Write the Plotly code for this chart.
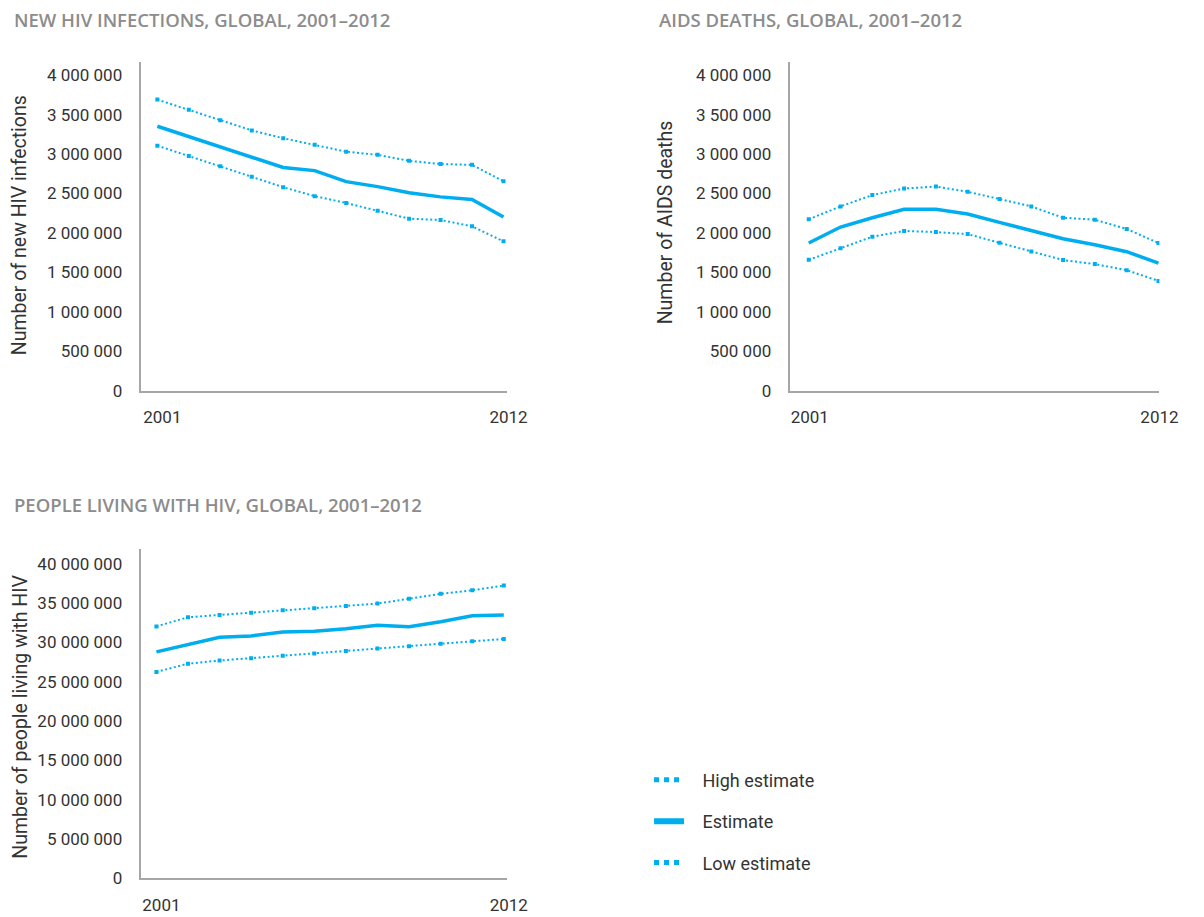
import plotly.graph_objects as go

years = list(range(2001, 2013))

# New HIV infections
inf_high = [3690000, 3560000, 3430000, 3300000, 3200000, 3117000, 3030000, 2990000, 2914000, 2874000, 2863000, 2655000]
inf_est = [3352000, 3220000, 3090000, 2957000, 2830000, 2790000, 2650000, 2587000, 2510000, 2457000, 2424000, 2203000]
inf_low = [3106000, 2974000, 2844000, 2712000, 2580000, 2466000, 2380000, 2280000, 2180000, 2164000, 2084000, 1893000]

# AIDS deaths
dth_high = [2173000, 2336000, 2480000, 2563000, 2588000, 2522000, 2430000, 2336000, 2193000, 2168000, 2050000, 1872000]
dth_est = [1872000, 2075000, 2193000, 2300000, 2300000, 2240000, 2134000, 2029000, 1927000, 1851000, 1762000, 1618000]
dth_low = [1659000, 1806000, 1952000, 2025000, 2011000, 1985000, 1876000, 1765000, 1656000, 1605000, 1528000, 1392000]

# People living with HIV
plw_high = [32040000, 33200000, 33500000, 33790000, 34080000, 34360000, 34650000, 34940000, 35560000, 36180000, 36640000, 37230000]
plw_est = [28800000, 29720000, 30650000, 30830000, 31330000, 31430000, 31750000, 32200000, 32000000, 32630000, 33380000, 33500000]
plw_low = [26250000, 27300000, 27700000, 27990000, 28300000, 28600000, 28920000, 29220000, 29530000, 29840000, 30140000, 30440000]

titles = ["NEW HIV INFECTIONS, GLOBAL, 2001\u20132012",
          "AIDS DEATHS, GLOBAL, 2001\u20132012",
          "PEOPLE LIVING WITH HIV, GLOBAL, 2001\u20132012"]
ytitles = ["Number of new HIV infections", "Number of AIDS deaths", "Number of people living with HIV"]

yt_small_vals = [0, 500000, 1000000, 1500000, 2000000, 2500000, 3000000, 3500000, 4000000]
yt_small_text = ["0", "500 000", "1 000 000", "1 500 000", "2 000 000", "2 500 000", "3 000 000", "3 500 000", "4 000 000"]
yt_big_vals = [0, 5000000, 10000000, 15000000, 20000000, 25000000, 30000000, 35000000, 40000000]
yt_big_text = ["0", "5 000 000", "10 000 000", "15 000 000", "20 000 000", "25 000 000", "30 000 000", "35 000 000", "40 000 000"]
xt_vals = [2001, 2012]
xt_text = ["2001", "2012"]

legend_names = ["High estimate", "Estimate", "Low estimate"]

BLUE = "#00aeef"
W, H = 1204, 917
FONT = "Roboto"

fig = go.Figure()

series = [
    (inf_high, inf_est, inf_low, "x", "y"),
    (dth_high, dth_est, dth_low, "x2", "y2"),
    (plw_high, plw_est, plw_low, "x3", "y3"),
]
for hi, est, lo, xa, ya in series:
    for vals, kind in ((hi, "dot"), (lo, "dot"), (est, "solid")):
        if kind == "dot":
            fig.add_trace(go.Scatter(x=years, y=vals, xaxis=xa, yaxis=ya, mode="lines+markers",
                                     line=dict(color=BLUE, width=2, dash="2px,2.5px"),
                                     marker=dict(symbol="square", size=4, color=BLUE),
                                     showlegend=False, hoverinfo="skip"))
        else:
            fig.add_trace(go.Scatter(x=years, y=vals, xaxis=xa, yaxis=ya, mode="lines",
                                     line=dict(color=BLUE, width=3.5),
                                     showlegend=False, hoverinfo="skip"))

# legend entries
for i, name in enumerate(legend_names):
    if name == "Estimate":
        ln = dict(color=BLUE, width=6)
    else:
        ln = dict(color=BLUE, width=5, dash="dot")
    fig.add_trace(go.Scatter(x=[None], y=[None], mode="lines", name="\u00a0\u00a0\u00a0" + name, line=ln,
                             legendgroup=name, showlegend=True, xaxis="x", yaxis="y"))

def px_x(p):
    return p / W

def px_y(p):
    return 1 - p / H

axis_common = dict(showgrid=False, zeroline=False, showline=True, linecolor="#a6a6a6", linewidth=2,
                   ticks="", tickfont=dict(family=FONT, size=17, color="#333333"), fixedrange=True)

layout = dict(
    width=W, height=H, margin=dict(l=0, r=0, t=0, b=0),
    paper_bgcolor="white", plot_bgcolor="white",
    showlegend=True,
    legend=dict(x=px_x(660), y=px_y(770), xanchor="left", yanchor="top",
                font=dict(family=FONT, size=18, color="#333333"),
                tracegroupgap=15, itemwidth=30, bgcolor="rgba(0,0,0,0)"),
    xaxis=dict(domain=[px_x(143), px_x(516)], range=[2000.469, 2012.125], anchor="y",
               tickvals=xt_vals, ticktext=xt_text, ticklabelshift=5, ticklabelstandoff=10, **axis_common),
    yaxis=dict(domain=[px_y(395), px_y(63)], range=[0, 4163000], anchor="x",
               tickvals=yt_small_vals, ticktext=yt_small_text, ticklabelstandoff=13, **axis_common),
    xaxis2=dict(domain=[px_x(803), px_x(1179)], range=[2000.40, 2012.03], anchor="y2",
                tickvals=xt_vals, ticktext=xt_text, ticklabelshift=1, ticklabelstandoff=10, **axis_common),
    yaxis2=dict(domain=[px_y(395), px_y(63)], range=[0, 4163000], anchor="x2",
                tickvals=yt_small_vals, ticktext=yt_small_text, ticklabelstandoff=13, **axis_common),
    xaxis3=dict(domain=[px_x(143), px_x(516)], range=[2000.50, 2012.115], anchor="y3",
                tickvals=xt_vals, ticktext=xt_text, ticklabelshift=5, ticklabelstandoff=10, **axis_common),
    yaxis3=dict(domain=[px_y(888), px_y(555)], range=[0, 41890000], anchor="x3",
                tickvals=yt_big_vals, ticktext=yt_big_text, ticklabelstandoff=13, **axis_common),
)
fig.update_layout(**layout)

annotations = []
title_pos = [(12, 20), (668, 20), (12, 510)]
for t, (x, y) in zip(titles, title_pos):
    annotations.append(dict(text=t, x=px_x(x), y=px_y(y), xref="paper", yref="paper",
                            xanchor="left", yanchor="middle", showarrow=False,
                            font=dict(family="Open Sans", size=18.5, weight=600, color="#8c8c8c")))
ytitle_pos = [(20, 228), (677, 225), (20, 725)]
for t, (x, y) in zip(ytitles, ytitle_pos):
    annotations.append(dict(text=t, x=px_x(x), y=px_y(y), xref="paper", yref="paper",
                            xanchor="center", yanchor="middle", showarrow=False, textangle=-90,
                            font=dict(family=FONT, size=19.5, color="#333333")))
fig.update_layout(annotations=annotations)

fig.write_html("out.html")
